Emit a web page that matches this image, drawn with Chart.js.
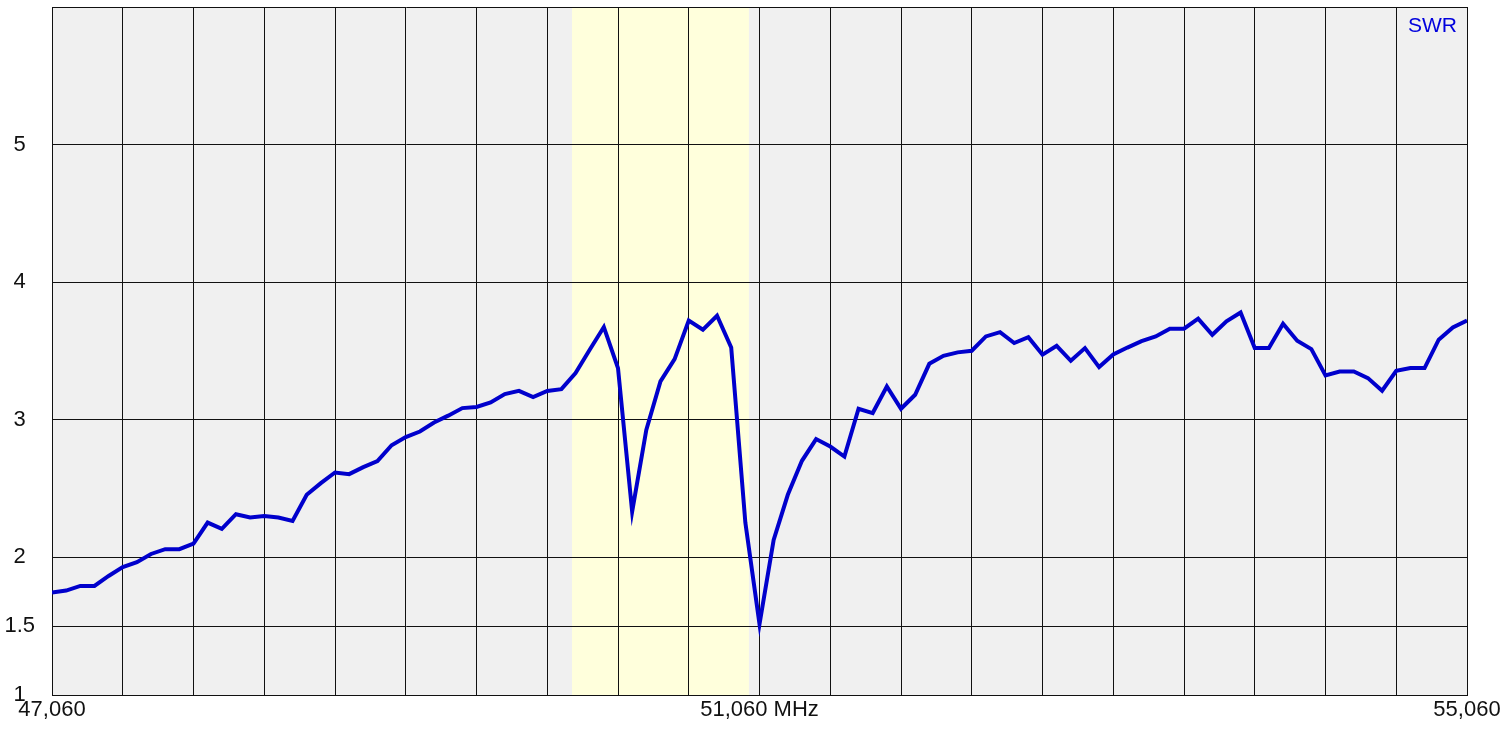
<!DOCTYPE html>
<html>
<head>
<meta charset="utf-8">
<script src="https://cdn.jsdelivr.net/npm/chart.js@4.4.1/dist/chart.umd.min.js"></script>
<style>
    html, body { margin: 0; padding: 0; background: #ffffff; }
    #wrap { width: 1512px; height: 730px; }
</style>
</head>
<body>
<div id="wrap"><canvas id="swrChart" width="1512" height="730"></canvas></div>
<script>
// sweep settings (kHz, shown as in the analyser)
const FREQ_START = 47060;
const FREQ_STEP = 80;
const FREQ_END = 55060;
const GRID_STEP = 400;

// highlighted band
const BAND_START = 50000;
const BAND_END = 51000;

// SWR readings, one per sweep step
const swrValues = [
    1.744, 1.759, 1.793, 1.793, 1.865, 1.929, 1.965, 2.025, 2.06, 2.06,
    2.10, 2.253, 2.207, 2.314, 2.29, 2.30, 2.29, 2.265, 2.455, 2.54,
    2.617, 2.605, 2.656, 2.70, 2.815, 2.874, 2.915, 2.98, 3.03, 3.085,
    3.093, 3.126, 3.187, 3.21, 3.165, 3.21, 3.223, 3.34, 3.509, 3.674,
    3.376, 2.333, 2.927, 3.279, 3.441, 3.722, 3.655, 3.756, 3.526, 2.253,
    1.516, 2.127, 2.455, 2.702, 2.86, 2.806, 2.733, 3.08, 3.049, 3.242,
    3.08, 3.182, 3.407, 3.465, 3.49, 3.502, 3.606, 3.637, 3.558, 3.60,
    3.473, 3.538, 3.429, 3.521, 3.383, 3.475, 3.525, 3.572, 3.606, 3.662,
    3.662, 3.735, 3.618, 3.715, 3.78, 3.521, 3.521, 3.698, 3.575, 3.514,
    3.322, 3.351, 3.351, 3.303, 3.211, 3.356, 3.376, 3.376, 3.582, 3.671,
    3.722
];

const freqLabels = swrValues.map((_, i) => FREQ_START + i * FREQ_STEP);

const yTicks = [1, 1.5, 2, 3, 4, 5, 6];
const yTickLabels = ['1', '1.5', '2', '3', '4', '5', ''];

const xLabelValues = [47060, 51060, 55060];
const xTickLabels = ['47,060', '51,060 MHz', '55,060'];

const FONT = "'Liberation Sans', Arial, sans-serif";
const GRID_COLOR = '#111111';

// plot background + yellow band, painted before the grid
const backgroundPlugin = {
    id: 'plotBackground',
    beforeDraw: (chart) => {
        const { ctx, chartArea } = chart;
        const xScale = chart.scales.x;

        ctx.save();
        ctx.fillStyle = '#f0f0f0';
        ctx.fillRect(chartArea.left, chartArea.top, chartArea.right - chartArea.left, chartArea.bottom - chartArea.top);

        const x0 = xScale.getPixelForValue(BAND_START);
        const x1 = xScale.getPixelForValue(BAND_END);
        ctx.fillStyle = '#ffffdc';
        ctx.fillRect(x0, chartArea.top, x1 - x0, chartArea.bottom - chartArea.top);
        ctx.restore();
    }
};

// "SWR" series tag in the top right corner
const seriesTagPlugin = {
    id: 'seriesTag',
    afterDraw: (chart) => {
        const { ctx, chartArea } = chart;
        ctx.save();
        ctx.font = '21px ' + FONT;
        ctx.fillStyle = '#0000dd';
        ctx.textAlign = 'right';
        ctx.textBaseline = 'alphabetic';
        ctx.fillText('SWR', chartArea.right - 10, chartArea.top + 25);
        ctx.restore();
    }
};

new Chart(document.getElementById('swrChart'), {
    type: 'line',
    data: {
        labels: freqLabels,
        datasets: [{
            label: 'SWR',
            data: swrValues,
            borderColor: '#0000cc',
            borderWidth: 4,
            pointRadius: 0,
            tension: 0,
            fill: false
        }]
    },
    options: {
        responsive: false,
        animation: false,
        events: [],
        layout: {
            padding: { top: 7, right: 45, left: 0, bottom: 0 }
        },
        plugins: {
            legend: { display: false },
            tooltip: { enabled: false }
        },
        scales: {
            x: {
                type: 'linear',
                min: FREQ_START,
                max: FREQ_END,
                afterBuildTicks: (scale) => {
                    const ticks = [];
                    for (let v = FREQ_START; v <= FREQ_END; v += GRID_STEP) {
                        ticks.push({ value: v });
                    }
                    scale.ticks = ticks;
                },
                afterFit: (scale) => {
                    scale.height = 35;
                },
                grid: {
                    color: GRID_COLOR,
                    lineWidth: 1,
                    drawTicks: false
                },
                border: { color: GRID_COLOR, width: 1 },
                ticks: {
                    autoSkip: false,
                    maxRotation: 0,
                    minRotation: 0,
                    padding: 2,
                    color: '#111111',
                    font: { family: FONT, size: 22 },
                    callback: (value) => {
                        const idx = xLabelValues.indexOf(value);
                        return idx >= 0 ? xTickLabels[idx] : '';
                    }
                }
            },
            y: {
                type: 'linear',
                min: 1,
                max: 6,
                afterBuildTicks: (scale) => {
                    scale.ticks = yTicks.map(v => ({ value: v }));
                },
                afterFit: (scale) => {
                    // fixed gutter; labels sit centred in it, no extra room above
                    scale.width = 52;
                    scale.paddingTop = 0;
                    scale.paddingBottom = 0;
                },
                grid: {
                    color: GRID_COLOR,
                    lineWidth: 1,
                    drawTicks: false
                },
                border: { color: GRID_COLOR, width: 1 },
                ticks: {
                    crossAlign: 'center',
                    padding: 17,
                    color: '#111111',
                    font: { family: FONT, size: 22 },
                    callback: (value) => {
                        const idx = yTicks.indexOf(value);
                        return idx >= 0 ? yTickLabels[idx] : '';
                    }
                }
            }
        }
    },
    plugins: [backgroundPlugin, seriesTagPlugin]
});
</script>
</body>
</html>
